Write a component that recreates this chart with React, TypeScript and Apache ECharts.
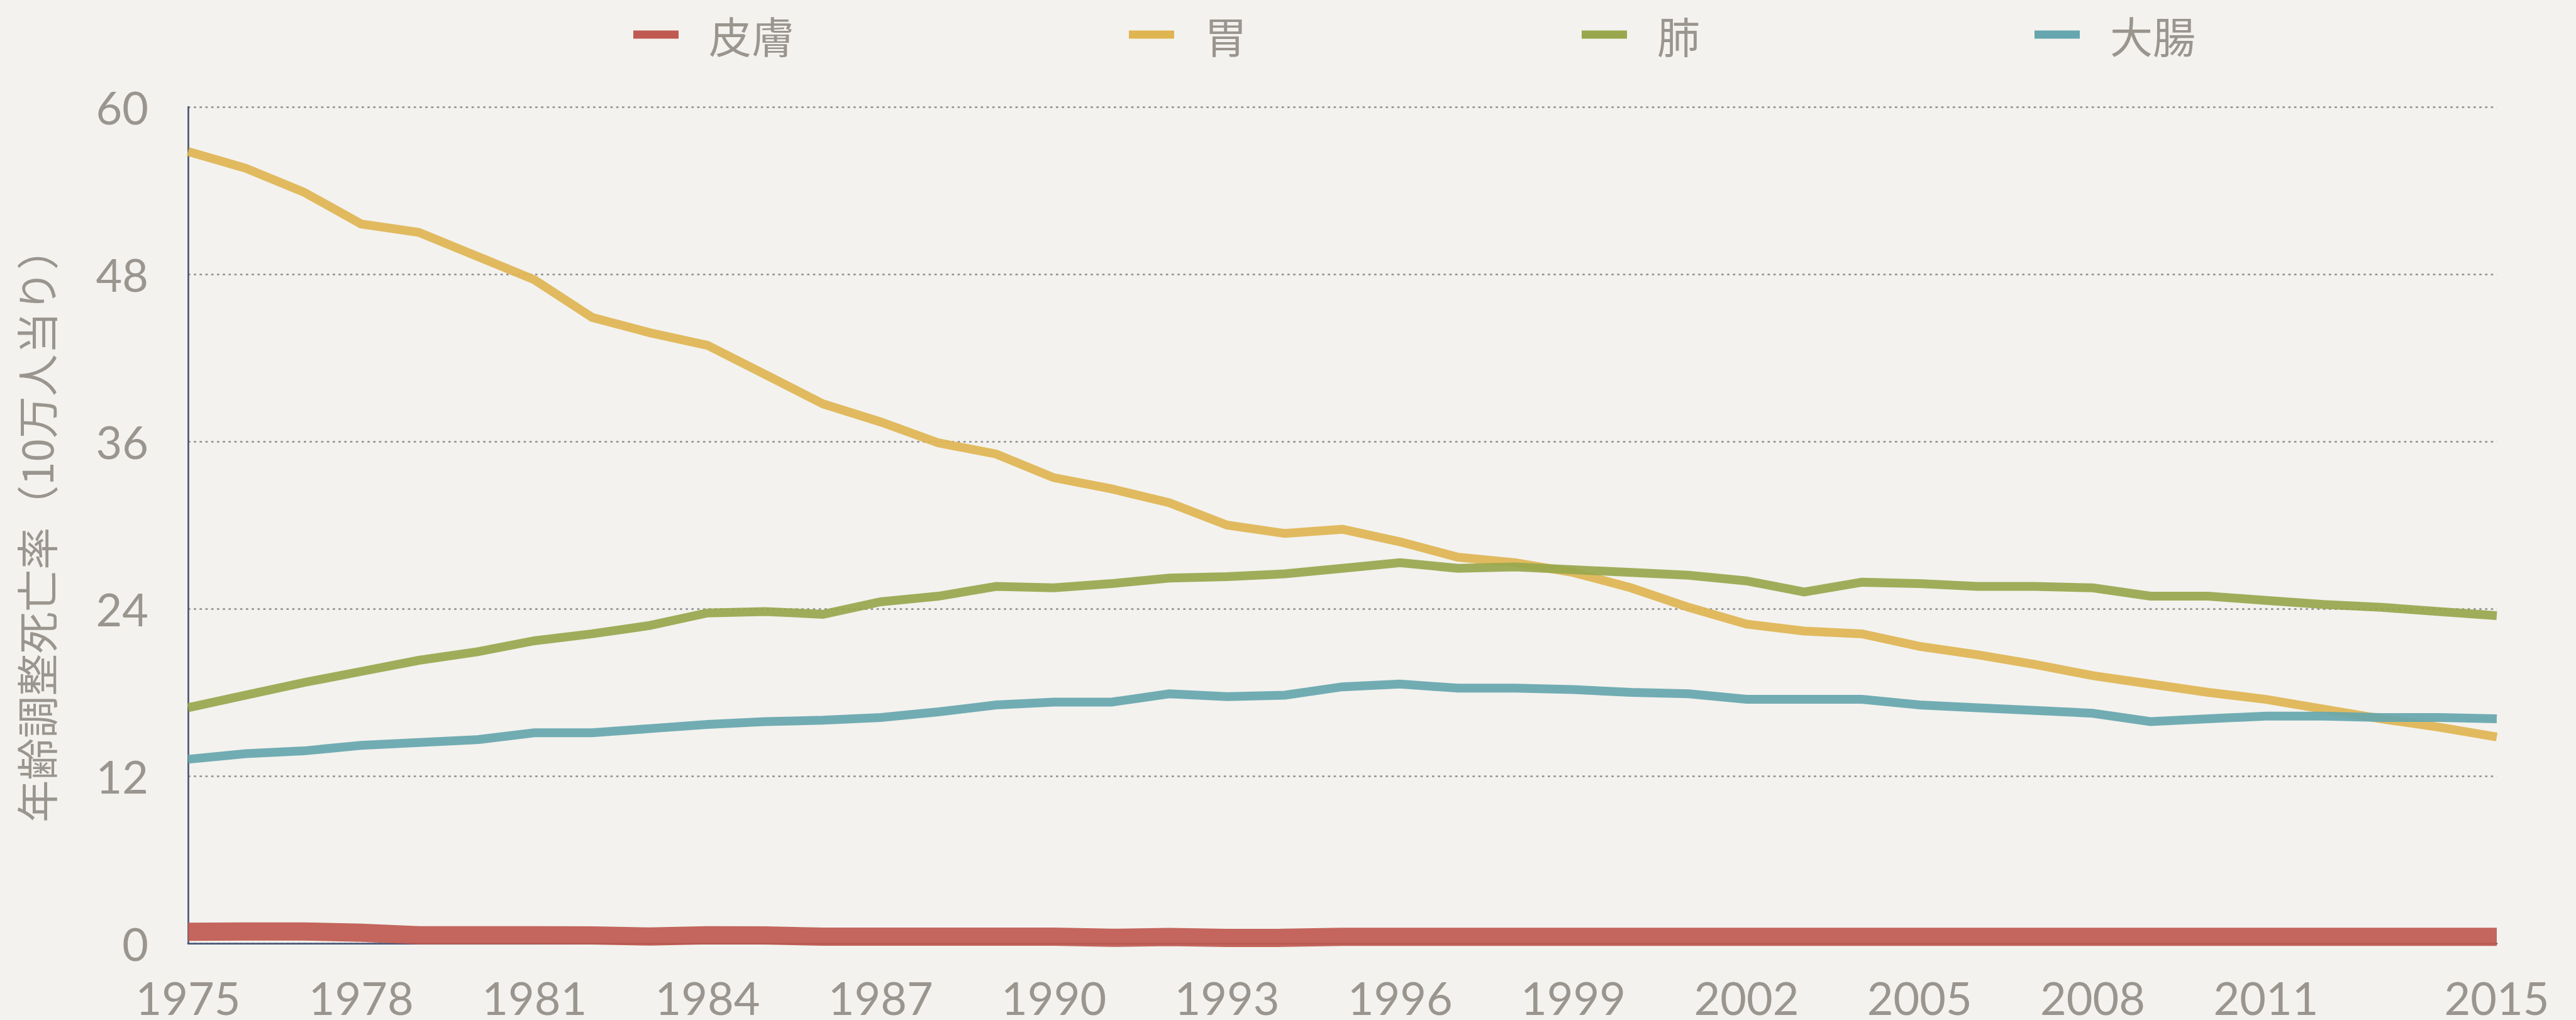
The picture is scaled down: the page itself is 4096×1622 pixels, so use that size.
import React, { useEffect, useRef } from "react";
import * as echarts from "echarts";

const years = [
  "1975", "1976", "1977", "1978", "1979", "1980", "1981", "1982", "1983", "1984",
  "1985", "1986", "1987", "1988", "1989", "1990", "1991", "1992", "1993", "1994",
  "1995", "1996", "1997", "1998", "1999", "2000", "2001", "2002", "2003", "2004",
  "2005", "2006", "2007", "2008", "2009", "2010", "2011", "2012", "2013", "2014",
  "2015",
];

const seriesNames = ["皮膚", "胃", "肺", "大腸"];

const skin = [
  0.82, 0.85, 0.85, 0.76, 0.58, 0.58, 0.58, 0.56, 0.48, 0.58,
  0.56, 0.47, 0.47, 0.47, 0.47, 0.47, 0.39, 0.45, 0.38, 0.39,
  0.46, 0.46, 0.46, 0.46, 0.46, 0.46, 0.46, 0.46, 0.46, 0.46,
  0.46, 0.46, 0.46, 0.46, 0.46, 0.46, 0.46, 0.46, 0.46, 0.46,
  0.46,
];

const stomach = [
  56.8, 55.6, 53.9, 51.6, 51.0, 49.3, 47.6, 44.9, 43.8, 42.9,
  40.8, 38.7, 37.4, 35.9, 35.1, 33.4, 32.6, 31.6, 30.0, 29.4,
  29.7, 28.8, 27.7, 27.3, 26.6, 25.5, 24.1, 22.9, 22.4, 22.2,
  21.3, 20.7, 20.0, 19.2, 18.6, 18.0, 17.5, 16.8, 16.1, 15.5,
  14.8,
];

const lung = [
  16.9, 17.8, 18.7, 19.5, 20.3, 20.9, 21.7, 22.2, 22.8, 23.7,
  23.8, 23.6, 24.5, 24.9, 25.6, 25.5, 25.8, 26.2, 26.3, 26.5,
  26.9, 27.3, 26.9, 27.0, 26.8, 26.6, 26.4, 26.0, 25.2, 25.9,
  25.8, 25.6, 25.6, 25.5, 24.9, 24.9, 24.6, 24.3, 24.1, 23.8,
  23.5,
];

const colon = [
  13.2, 13.6, 13.8, 14.2, 14.4, 14.6, 15.1, 15.1, 15.4, 15.7,
  15.9, 16.0, 16.2, 16.6, 17.1, 17.3, 17.3, 17.9, 17.7, 17.8,
  18.4, 18.6, 18.3, 18.3, 18.2, 18.0, 17.9, 17.5, 17.5, 17.5,
  17.1, 16.9, 16.7, 16.5, 15.9, 16.1, 16.3, 16.3, 16.2, 16.2,
  16.1,
];

const yTicks = { min: 0, max: 60, interval: 12 };
const yAxisTitle = "年齢調整死亡率（10万人当り）";

const colors = ["#c05a50", "#dfb552", "#98a74d", "#66a6ae"];
const textGray = "#9a958e";
const axisNavy = "#4b5878";
const FONT = "Lato, 'Noto Sans CJK JP', sans-serif";

export default function App() {
  const ref = useRef<HTMLDivElement>(null);

  useEffect(() => {
    document.body.style.margin = "0";
    document.body.style.background = "#f3f2ee";
    const chart = echarts.init(ref.current!, null, { renderer: "svg" });
    const dataSets = [skin, stomach, lung, colon];
    chart.setOption({
      animation: false,
      backgroundColor: "#f3f2ee",
      color: colors,
      legend: {
        left: 1002,
        top: 16,
        itemWidth: 72,
        itemHeight: 13,
        itemGap: 532,
        icon: "rect",
        data: seriesNames,
        textStyle: {
          color: textGray,
          fontSize: 68,
          fontFamily: "'Noto Sans CJK JP', sans-serif",
          padding: [0, 0, 0, 43],
        },
      },
      grid: {
        left: 299,
        right: 126,
        top: 170,
        bottom: 122,
        containLabel: false,
      },
      xAxis: {
        type: "category",
        data: years,
        boundaryGap: false,
        axisLine: { show: true, lineStyle: { color: axisNavy, width: 2.75 } },
        axisTick: { show: false },
        axisLabel: {
          color: textGray,
          fontSize: 72,
          lineHeight: 60,
          fontFamily: FONT,
          margin: 56,
          interval: (index: number, value: string) =>
            value === "2015" || (index % 3 === 0 && value !== "2014"),
        },
        splitLine: { show: false },
      },
      yAxis: {
        type: "value",
        min: yTicks.min,
        max: yTicks.max,
        interval: yTicks.interval,
        name: yAxisTitle,
        nameLocation: "middle",
        nameGap: 210,
        nameTextStyle: {
          color: textGray,
          fontSize: 67,
          fontFamily: "'Noto Sans CJK JP', sans-serif",
        },
        axisLine: { show: true, lineStyle: { color: axisNavy, width: 2.75 } },
        axisTick: { show: false },
        axisLabel: {
          color: textGray,
          fontSize: 72,
          fontFamily: FONT,
          margin: 63,
        },
        splitLine: {
          show: true,
          lineStyle: { color: "#8e8e8e", width: 2.5, type: [3.7, 5.5] },
        },
      },
      series: dataSets.map((d, i) => ({
        name: seriesNames[i],
        type: "line",
        data: d,
        showSymbol: false,
        symbol: "none",
        lineStyle: {
          width: i === 0 ? 29 : 14,
          color: colors[i],
          opacity: 0.92,
          cap: "butt",
          join: "miter",
        },
        itemStyle: { color: colors[i] },
        z: 3,
      })),
    });
    return () => chart.dispose();
  }, []);

  return <div ref={ref} style={{ width: 4096, height: 1622 }} />;
}
